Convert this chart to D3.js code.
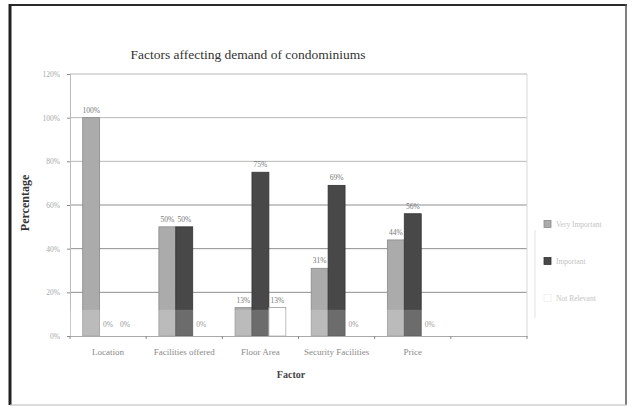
<!DOCTYPE html>
<html>
<head>
<meta charset="utf-8">
<script src="https://cdn.jsdelivr.net/npm/d3@7"></script>
<style>
  html, body { margin: 0; padding: 0; background: #fff; }
  svg { display: block; }
  text { font-family: "Liberation Serif", "DejaVu Serif", serif; }
</style>
</head>
<body>
<svg id="chart" width="632" height="409"></svg>
<script>
// Survey results: share of respondents rating each factor
const categories = ["Location", "Facilities offered", "Floor Area", "Security Facilities", "Price", ""];
const seriesNames = ["Very Important", "Important", "Not Relevant"];
const veryImportant = [100, 50, 13, 31, 44, null];
const important = [0, 50, 75, 69, 56, null];
const notRelevant = [0, 0, 13, 0, 0, null];
const yTicks = [0, 20, 40, 60, 80, 100, 120];

const seriesValues = [veryImportant, important, notRelevant];
const fills = ["#ababab", "#484848", "#ffffff"];
const strokes = ["#8a8a8a", "#333333", "#9a9a9a"];

const svg = d3.select("#chart");

// outer frame
svg.append("line").attr("x1", 10).attr("x2", 627).attr("y1", 5).attr("y2", 5)
  .attr("stroke", "#2a2a2a").attr("stroke-width", 2);
svg.append("line").attr("x1", 10).attr("x2", 10).attr("y1", 4).attr("y2", 405)
  .attr("stroke", "#222").attr("stroke-width", 3);
svg.append("line").attr("x1", 626).attr("x2", 626).attr("y1", 4).attr("y2", 405)
  .attr("stroke", "#555").attr("stroke-width", 1.5);
svg.append("line").attr("x1", 10).attr("x2", 627).attr("y1", 405).attr("y2", 405)
  .attr("stroke", "#bbb").attr("stroke-width", 1);

const plot = { left: 70, right: 527, top: 74, bottom: 336 };

const x = d3.scaleBand().domain(categories).range([plot.left, plot.right]).padding(0);
const cw = x.bandwidth();
const bw = cw / 4.5;
const xs = d3.scaleBand().domain(seriesNames).range([bw * 0.75, cw - bw * 0.75]).padding(0);
const y = d3.scaleLinear().domain([0, 120]).range([plot.bottom, plot.top]);

// gridlines
svg.append("g").selectAll("line").data(yTicks.filter(d => d > 0)).join("line")
  .attr("x1", plot.left).attr("x2", plot.right)
  .attr("y1", d => y(d)).attr("y2", d => y(d))
  .attr("stroke", d => d <= 60 ? "#8e8e8e" : "#b8b8b8").attr("stroke-width", 1);

// right frame of plot area
svg.append("line").attr("x1", plot.right).attr("x2", plot.right)
  .attr("y1", plot.top).attr("y2", plot.bottom).attr("stroke", "#d8d8d8");

// y axis
const yAxis = svg.append("g").attr("transform", `translate(${plot.left},0)`)
  .call(d3.axisLeft(y).tickValues(yTicks).tickSize(3).tickFormat(d => d + "%"));
yAxis.select(".domain").attr("stroke", "#bbb");
yAxis.selectAll(".tick line").attr("stroke", "#888");
yAxis.selectAll(".tick text").attr("fill", "#a8a8a8").attr("font-size", 7.5)
  .attr("font-family", "Liberation Serif").attr("x", -10);

// bars
const bars = [];
seriesNames.forEach((s, si) => {
  categories.forEach((c, ci) => {
    const v = seriesValues[si][ci];
    if (v !== null) bars.push({ s, si, c, v });
  });
});

svg.append("g").selectAll("rect").data(bars.filter(d => d.v > 0)).join("rect")
  .attr("x", d => x(d.c) + xs(d.s))
  .attr("y", d => y(d.v))
  .attr("width", xs.bandwidth())
  .attr("height", d => y(0) - y(d.v))
  .attr("fill", d => fills[d.si])
  .attr("stroke", d => strokes[d.si]).attr("stroke-width", 0.8);

// faint light band near the baseline
svg.append("rect").attr("x", plot.left).attr("width", plot.right - plot.left)
  .attr("y", y(12)).attr("height", y(0) - y(12))
  .attr("fill", "#fff").attr("opacity", 0.2);

// x axis
const xAxis = svg.append("g").attr("transform", `translate(0,${plot.bottom})`)
  .call(d3.axisBottom(x).tickSize(0).tickFormat(""));
xAxis.select(".domain").attr("stroke", "#aaa");
svg.append("g").selectAll("line").data(d3.range(categories.length + 1)).join("line")
  .attr("x1", i => plot.left + i * cw).attr("x2", i => plot.left + i * cw)
  .attr("y1", plot.bottom).attr("y2", plot.bottom + 3).attr("stroke", "#888");

svg.append("g").selectAll("text").data(categories).join("text")
  .attr("x", d => x(d) + cw / 2).attr("y", 355)
  .attr("text-anchor", "middle").attr("font-size", 9).attr("fill", "#8a8a8a")
  .text(d => d);

// data labels
svg.append("g").selectAll("text").data(bars).join("text")
  .attr("x", d => x(d.c) + xs(d.s) + xs.bandwidth() / 2)
  .attr("y", d => d.v > 0 ? y(d.v) - 5 : y(0) - 9)
  .attr("text-anchor", "middle").attr("font-size", 7.5)
  .attr("fill", d => d.v > 0 ? "#777" : "#999")
  .text(d => d.v + "%");

// titles
svg.append("text").attr("x", 248).attr("y", 59).attr("text-anchor", "middle")
  .attr("font-size", 13.5).attr("fill", "#333")
  .text("Factors affecting demand of condominiums");
svg.append("text").attr("transform", "translate(29,203) rotate(-90)")
  .attr("text-anchor", "middle").attr("font-size", 12).attr("font-weight", "bold")
  .attr("fill", "#333").text("Percentage");
svg.append("text").attr("x", 291).attr("y", 378).attr("text-anchor", "middle")
  .attr("font-size", 10).attr("font-weight", "bold").attr("fill", "#444")
  .text("Factor");

// legend
svg.append("line").attr("x1", 535).attr("x2", 535).attr("y1", 230).attr("y2", 318)
  .attr("stroke", "#e2e2e2");
const legend = svg.append("g").selectAll("g").data(seriesNames).join("g")
  .attr("transform", (d, i) => `translate(544,${224 + i * 37})`);
legend.append("rect").attr("x", 0).attr("y", -3.5).attr("width", 7).attr("height", 7)
  .attr("fill", (d, i) => fills[i])
  .attr("stroke", (d, i) => i === 2 ? "#eee" : strokes[i]).attr("stroke-width", 0.8);
legend.append("text").attr("x", 12).attr("y", 3).attr("font-size", 7.5)
  .attr("fill", "#c4c4c4").text(d => d);
</script>
</body>
</html>
